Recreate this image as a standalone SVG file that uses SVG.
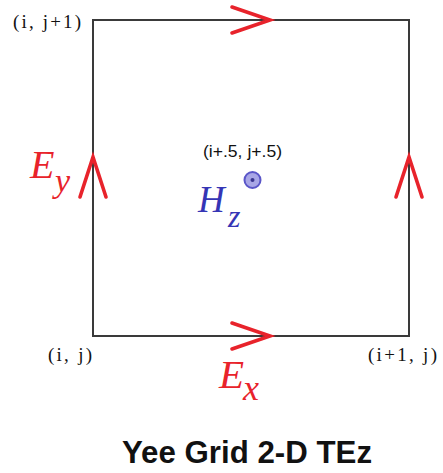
<svg xmlns="http://www.w3.org/2000/svg" width="443" height="473" viewBox="0 0 443 473">
<style>
.edge{fill:none;stroke:#3a3a3a;stroke-width:2}
.chev{fill:none;stroke:#e8232b;stroke-width:3.6;stroke-linecap:round;stroke-linejoin:miter}
.coord{font-family:"Liberation Serif",serif;font-size:19px;fill:#111}
.field{font-family:"Liberation Serif",serif;font-style:italic}
.e{fill:#e8232b}
.h{fill:#3535b5}
.title{font-family:"Liberation Sans",Arial,sans-serif;font-weight:bold;font-size:31px;fill:#111}
.mid{font-family:"Liberation Sans",Arial,sans-serif;font-size:16px;fill:#111}
</style>
<rect width="443" height="473" fill="#fff"/>
<g id="connectors">
<rect class="edge" x="93" y="20" width="316" height="316"/>
<path class="chev" d="M232,7 L270,20 L232,33"/>
<path class="chev" d="M232,323 L270,336 L232,349"/>
<path class="chev" d="M80,197 L93,157 L106,197"/>
<path class="chev" d="M396,197 L409,157 L422,197"/>
</g>
<g id="node-i-j1"><text class="coord" x="13" y="28" textLength="68" lengthAdjust="spacing">(i, j+1)</text></g>
<g id="node-i-j"><text class="coord" x="48" y="361" textLength="44" lengthAdjust="spacing">(i, j)</text></g>
<g id="node-i1-j"><text class="coord" x="368" y="361" textLength="69" lengthAdjust="spacing">(i+1, j)</text></g>
<g id="node-center">
<text class="mid" x="203" y="157" textLength="79" lengthAdjust="spacingAndGlyphs">(i+.5, j+.5)</text>
<circle cx="252.5" cy="180" r="8" fill="#a8a6e6" stroke="#5a56c8" stroke-width="2"/>
<circle cx="252.5" cy="180" r="2" fill="#3a3690"/>
</g>
<g id="node-Ey"><text class="field e" x="30" y="178" font-size="40">E</text><text class="field e" x="55" y="192" font-size="34">y</text></g>
<g id="node-Hz"><text class="field h" x="198" y="212" font-size="37">H</text><text class="field h" x="228" y="227" font-size="32">z</text></g>
<g id="node-Ex"><text class="field e" x="219" y="388" font-size="41">E</text><text class="field e" x="243" y="400" font-size="36">x</text></g>
<g id="title"><text class="title" x="122" y="463" textLength="250" lengthAdjust="spacingAndGlyphs">Yee Grid 2-D TEz</text></g>
</svg>
